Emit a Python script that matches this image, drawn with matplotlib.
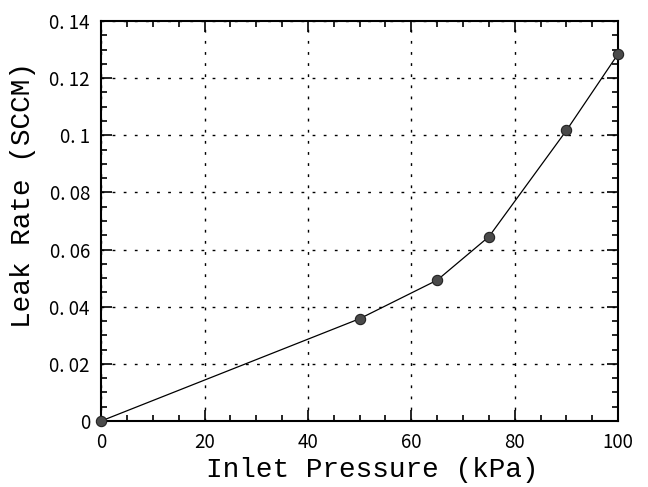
import matplotlib
matplotlib.use("Agg")
import matplotlib.pyplot as plt
from matplotlib.ticker import MultipleLocator, FuncFormatter

# readings
pressure_kpa = [0, 50, 65, 75, 90, 100]
leak_sccm = [0.0, 0.0358, 0.0493, 0.0645, 0.1017, 0.1285]

x_label = "Inlet Pressure (kPa)"
y_label = "Leak Rate (SCCM)"


def fmt_y(v, pos):
    if abs(v) < 1e-9:
        return "0"
    s = ("%.2f" % v).rstrip("0")
    return s.replace(".", ". ")


fig = plt.figure(figsize=(6.48, 4.87), dpi=100)
ax = fig.add_axes([0.156, 0.1355, 0.798, 0.8215])

ax.plot(pressure_kpa, leak_sccm, color="black", lw=0.9, zorder=3, clip_on=False)
ax.scatter(pressure_kpa, leak_sccm, s=55, color="#4a4a4a",
           edgecolor="#222222", linewidth=0.8, zorder=4, clip_on=False)

ax.set_xlim(0, 100)
ax.set_ylim(0, 0.14)
ax.xaxis.set_major_locator(MultipleLocator(20))
ax.xaxis.set_minor_locator(MultipleLocator(5))
ax.yaxis.set_major_locator(MultipleLocator(0.02))
ax.yaxis.set_minor_locator(MultipleLocator(0.005))
ax.yaxis.set_major_formatter(FuncFormatter(fmt_y))

ax.tick_params(which="both", direction="in", top=True, right=True,
               width=1.2, colors="black")
ax.tick_params(which="major", length=8, labelsize=13.5, pad=8)
ax.tick_params(which="minor", length=4)
for lab in ax.get_xticklabels() + ax.get_yticklabels():
    lab.set_family(["Noto Sans CJK JP", "DejaVu Sans"])

ax.grid(True, which="major", color="black", ls=(0, (2, 6)), lw=1.0)
for sp in ax.spines.values():
    sp.set_linewidth(1.5)

ax.set_xlabel(x_label, family="Liberation Mono", fontsize=20)
ax.set_ylabel(y_label, family="Liberation Mono", fontsize=20)
ax.xaxis.set_label_coords(0.524, -0.09)
ax.yaxis.set_label_coords(-0.125, 0.565)

fig.savefig("out.png", dpi=100)
